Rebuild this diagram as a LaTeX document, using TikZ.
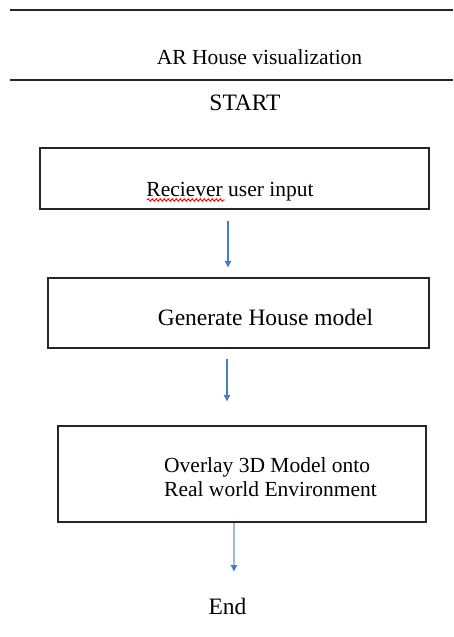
\documentclass[tikz,border=0pt]{standalone}
\usepackage{fontspec}
\setmainfont{Liberation Serif}
\usetikzlibrary{arrows.meta,decorations.pathmorphing}
\definecolor{flowblue}{HTML}{4A7EBB}
\definecolor{paleblue}{HTML}{9DBBE2}

\begin{document}
\begin{tikzpicture}[x=1pt,y=-1pt,
		stepbox/.style={draw=black!85,line width=1.4pt,inner sep=0pt},
		flow/.style={draw=flowblue,line width=1.2pt,-{Triangle[length=6.5pt,width=6.5pt,color=flowblue]}},
		steptext/.style={anchor=base,inner sep=0pt,font=\fontsize{23.5}{28}\selectfont}]
				\useasboundingbox (0,0) rectangle (453,637);
				
				% Header rules and title
				\draw[line width=1.5pt,black!85] (10,10) -- (453,10);
				\draw[line width=1.5pt,black!85] (10,80) -- (453,80);
				\node[steptext,font=\fontsize{21.5}{26}\selectfont] (title) at (259.5,64) {AR House visualization};
				\node[steptext] (start) at (245,110) {START};
				
				% Boxes
				\node[stepbox,minimum width=389pt,minimum height=61pt] (recv) at (234.5,178.5) {};
				\node[stepbox,minimum width=381pt,minimum height=70pt] (gen) at (238.5,313) {};
				\node[stepbox,minimum width=368pt,minimum height=96pt] (overlay) at (242,474) {};
				
				% Texts
				\node[steptext,font=\fontsize{21.5}{26}\selectfont] (recvtext) at (230,196) {Reciever user input};
				\draw[red,line width=0.9pt,decorate,decoration={snake,amplitude=1.3pt,segment length=4pt}] (147,200) -- (225,200); % spell check mark
				\node[steptext] (gentext) at (265.5,325) {Generate House model};
				\node[steptext,anchor=base west,font=\fontsize{21.5}{26}\selectfont] (overlayA) at (164,472) {Overlay 3D Model onto};
				\node[steptext,anchor=base west,font=\fontsize{21.5}{26}\selectfont] (overlayB) at (164,496) {Real world Environment};
				\node[steptext] (finish) at (227.5,614) {End};
				
				% Arrows
				\draw[flow,shorten <=11pt,shorten >=10pt] (228,0 |- recv.south) -- (228,0 |- gen.north);
				\draw[flow,shorten <=10pt,shorten >=24pt] (227,0 |- gen.south) -- (227,0 |- overlay.north);
				\draw[flow,draw=paleblue,shorten >=26pt] (234,0 |- overlay.south) -- (234,0 |- finish.north);
			\end{tikzpicture}
\end{document}
